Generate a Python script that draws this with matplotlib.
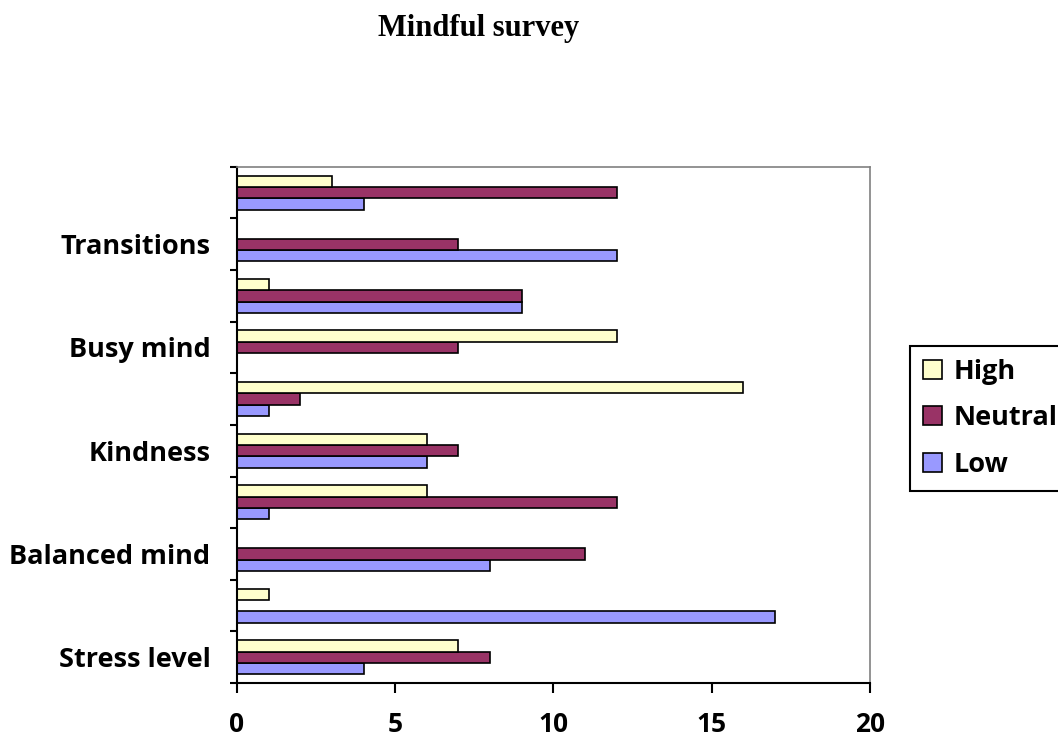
import numpy as np
import matplotlib.pyplot as plt

# survey answers per question, bottom to top
labels = ['Stress level', '', 'Balanced mind', '', 'Kindness', '',
          'Busy mind', '', 'Transitions', '']
high = [7, 1, 0, 6, 6, 16, 12, 1, 0, 3]
neutral = [8, 0, 11, 12, 7, 2, 7, 9, 7, 12]
low = [4, 17, 8, 1, 6, 1, 0, 9, 12, 4]
xticks = [0, 5, 10, 15, 20]

font = ['Open Sans', 'DejaVu Sans']

fig = plt.figure(figsize=(10.58, 7.38), dpi=100)
ax = fig.add_axes([0.224, 0.0745, 0.598, 0.6995])

y = np.arange(len(labels))
h = 0.22
kw = dict(height=h, edgecolor='black', linewidth=1.2)
ax.barh(y - h, low, color='#9999FF', label='Low', **kw)
ax.barh(y, neutral, color='#993366', label='Neutral', **kw)
ax.barh(y + h, high, color='#FFFFCC', label='High', **kw)

ax.set_xlim(0, 20)
ax.set_ylim(-0.5, len(labels) - 0.5)

# x axis
ax.set_xticks(xticks)
ax.set_xticklabels([str(t) for t in xticks], fontsize=19, fontweight='bold',
                   family=font)
ax.tick_params(axis='x', direction='out', length=7, width=1.5, pad=13)

# y axis: marks between groups, names centred on groups
ax.set_yticks(np.arange(len(labels) + 1) - 0.5)
ax.set_yticklabels([])
ax.set_yticks(y, minor=True)
ax.set_yticklabels(labels, minor=True, fontsize=19.5, fontweight='bold',
                   family=font)
ax.tick_params(axis='y', which='major', direction='out', length=5, width=1.5)
ax.tick_params(axis='y', which='minor', length=0, pad=19)

for s in ['left', 'bottom']:
    ax.spines[s].set_color('black')
    ax.spines[s].set_linewidth(1.5)
for s in ['top', 'right']:
    ax.spines[s].set_color('#808080')
    ax.spines[s].set_linewidth(1.2)

fig.text(0.452, 0.961, 'Mindful survey', ha='center', va='center',
         fontsize=22, fontweight='bold', family='Liberation Serif')

handles, names = ax.get_legend_handles_labels()
leg = fig.legend(handles[::-1], names[::-1], loc='center left',
                 bbox_to_anchor=(0.860, 0.433), fancybox=False,
                 edgecolor='black', framealpha=1, handlelength=0.7,
                 handleheight=0.7, handletextpad=0.4, labelspacing=0.75,
                 borderpad=0.5, borderaxespad=0,
                 prop={'family': font, 'weight': 'bold', 'size': 19.5})
leg.get_frame().set_linewidth(1.5)

fig.savefig('out.png', dpi=100)
